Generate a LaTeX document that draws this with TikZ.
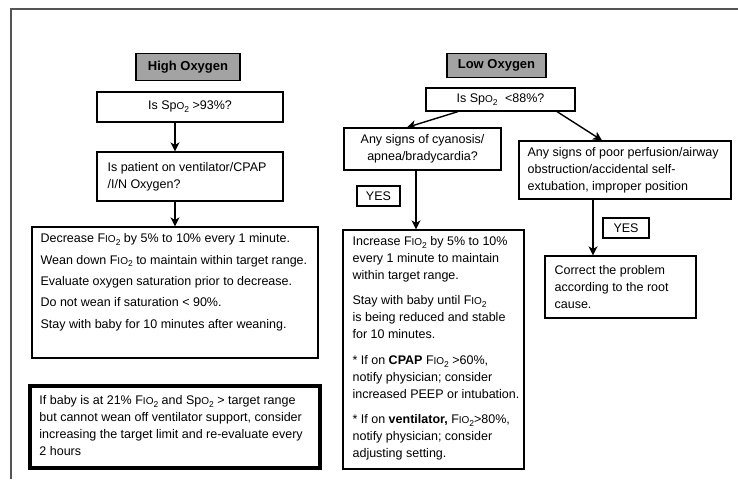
\documentclass[tikz,border=0pt]{standalone}
\usepackage{fontspec}
\setmainfont{Liberation Sans}
\usetikzlibrary{arrows.meta}
\definecolor{titlegray}{HTML}{A3A3A3}
\definecolor{framegray}{HTML}{555555}
\newcommand{\mysub}[1]{\raisebox{-0.22em}{\fontsize{8.5}{8.5}\selectfont #1}}
\newcommand{\SpOt}{Sp{\fontsize{10}{10}\selectfont O}\mysub{2}}
\newcommand{\FiOt}{F{\fontsize{10}{10}\selectfont IO}\mysub{2}}
\tikzset{
  box/.style={draw=black, line width=1.2pt, inner sep=0pt, font=\fontsize{12.5}{17}\selectfont},
  titlebox/.style={box, fill=titlegray, font=\bfseries\fontsize{13}{15}\selectfont},
  txt/.style={inner sep=0pt, align=left, anchor=north west, font=\fontsize{12.5}{17}\selectfont},
  arr/.style={line width=1.4pt, -{Stealth[length=9pt,width=9pt,inset=2.5pt]}},
  framestyle/.style={draw=framegray, line width=1.8pt},
}
\begin{document}
\begin{tikzpicture}[x=1pt,y=-1pt]
\useasboundingbox (0,0) rectangle (738,479);
\draw[framestyle] (738,9) -- (11,9) -- (11,479);

% ---------- High oxygen ----------
\node[titlebox, minimum width=104pt, minimum height=27pt] (high) at (188,67) {High Oxygen};
\node[box, minimum width=186pt, minimum height=30pt] (q1) at (190,107) {Is \SpOt\ >93\%?};
\node[box, minimum width=186pt, minimum height=49pt] (q2) at (190,176.5) {};
\node[txt, anchor=west] (q2t) at ([xshift=11pt]q2.west) {Is patient on ventilator/CPAP\\/I/N Oxygen?};
\node[box, minimum width=286pt, minimum height=131pt] (dec) at (175,292.5) {};
\node[txt, font=\fontsize{12.5}{21.4}\selectfont] (dect) at ([xshift=9pt,yshift=-7pt]dec.north west)
  {Decrease \FiOt\ by 5\% to 10\% every 1 minute.\\
   Wean down \FiOt\ to maintain within target range.\\
   Evaluate oxygen saturation prior to decrease.\\
   Do not wean if saturation < 90\%.\\
   Stay with baby for 10 minutes after weaning.};
\node[box, line width=3.5pt, minimum width=290pt, minimum height=82pt] (note) at (175,427) {};
\node[txt] (notet) at ([xshift=11pt,yshift=-11pt]note.north west)
  {If baby is at 21\% \FiOt\ and \SpOt\ > target range\\
   but cannot wean off ventilator support, consider\\
   increasing the target limit and re-evaluate every\\
   2 hours};

\draw[arr] ([xshift=-15pt]q1.south) -- ([xshift=-15pt]q1.south |- q2.north);
\draw[arr] ([xshift=-15pt]q2.south) -- ([xshift=-15pt]q2.south |- dec.north);

% ---------- Low oxygen ----------
\node[titlebox, minimum width=99pt, minimum height=24pt] (low) at (496.5,65.5) {Low Oxygen};
\node[box, minimum width=149pt, minimum height=23pt] (q3) at (500.5,99.5) {Is \SpOt\hspace{4pt} <88\%?};
\node[box, align=center, minimum width=157pt, minimum height=42pt] (cyan) at (422.5,149)
  {Any signs of cyanosis/\\apnea/bradycardia?};
\node[box, minimum width=212pt, minimum height=58pt] (rbox) at (625,170) {};
\node[txt, anchor=west] (rboxt) at ([xshift=9pt]rbox.west)
  {Any signs of poor perfusion/airway\\obstruction/accidental self-\\extubation, improper position};
\node[box, minimum width=43pt, minimum height=20pt] (yes1) at (378.5,196) {YES};
\node[box, minimum width=46pt, minimum height=20pt] (yes2) at (626,228) {YES};
\node[box, minimum width=181pt, minimum height=239pt] (inc) at (433.5,349.5) {};
\node[txt] (inct) at ([xshift=10pt,yshift=-7pt]inc.north west)
  {Increase \FiOt\ by 5\% to 10\%\\
   every 1 minute to maintain\\
   within target range.\\[8.3pt]
   Stay with baby until \FiOt\\
   is being reduced and stable\\
   for 10 minutes.\\[8.3pt]
   * If on \textbf{CPAP} \FiOt\ >60\%,\\
   notify physician; consider\\
   increased PEEP or intubation.\\[8.3pt]
   * If on \textbf{ventilator,} \FiOt>80\%,\\
   notify physician; consider\\
   adjusting setting.};
\node[box, minimum width=151pt, minimum height=62pt] (corr) at (620.5,287) {};
\node[txt, anchor=west] (corrt) at ([xshift=10pt]corr.west)
  {Correct the problem\\according to the root\\cause.};

\draw[arr] ([xshift=-42.5pt]q3.south) -- ([xshift=-15.5pt]cyan.north);
\draw[arr] ([xshift=56.5pt]q3.south) -- ([xshift=-23pt]rbox.north);
\draw[arr] ([xshift=-6.5pt]cyan.south) -- ([xshift=-6.5pt]cyan.south |- inc.north);
\draw[arr] ([xshift=-32pt]rbox.south) -- ([xshift=-32pt]rbox.south |- corr.north);
\end{tikzpicture}
\end{document}
